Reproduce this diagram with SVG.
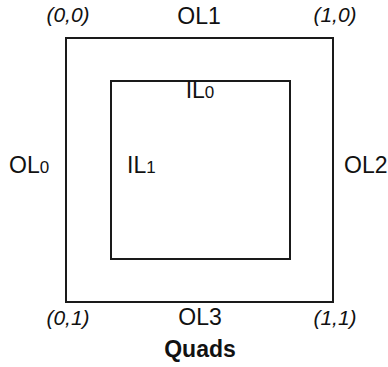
<svg xmlns="http://www.w3.org/2000/svg" width="388" height="367" viewBox="0 0 388 367">
  <style>
    .box { fill: none; stroke: #1a1a1a; stroke-width: 2; }
    .lbl { font-family: "Liberation Sans", Arial, sans-serif; font-size: 23px; fill: #111; }
    .coord { font-family: "Liberation Sans", Arial, sans-serif; font-size: 21px; font-style: italic; fill: #111; }
    .sub { font-size: 17px; }
    .title { font-family: "Liberation Sans", Arial, sans-serif; font-size: 23px; font-weight: bold; fill: #111; }
  </style>
  <rect width="388" height="367" fill="#ffffff"/>

  <!-- outer quad -->
  <g id="outer">
    <rect class="box" x="66" y="38" width="267" height="264"/>
  </g>

  <!-- inner quad -->
  <g id="inner">
    <rect class="box" x="111" y="81" width="179" height="178"/>
  </g>

  <g id="connectors"/>

  <!-- corner parameter coordinates -->
  <g id="corners">
    <text class="coord" x="68" y="22" text-anchor="middle">(0,0)</text>
    <text class="coord" x="335" y="22" text-anchor="middle">(1,0)</text>
    <text class="coord" x="68" y="325" text-anchor="middle">(0,1)</text>
    <text class="coord" x="335" y="325" text-anchor="middle">(1,1)</text>
  </g>

  <!-- tessellation level labels -->
  <g id="levels">
    <text class="lbl" x="199" y="24" text-anchor="middle">OL1</text>
    <text class="lbl" x="200" y="98" text-anchor="middle">IL<tspan class="sub">0</tspan></text>
    <text class="lbl" x="9" y="173">OL<tspan class="sub">0</tspan></text>
    <text class="lbl" x="127" y="173">IL<tspan class="sub">1</tspan></text>
    <text class="lbl" x="344" y="173">OL2</text>
    <text class="lbl" x="200" y="325" text-anchor="middle">OL3</text>
  </g>

  <g id="caption">
    <text class="title" x="200" y="357" text-anchor="middle">Quads</text>
  </g>
</svg>
